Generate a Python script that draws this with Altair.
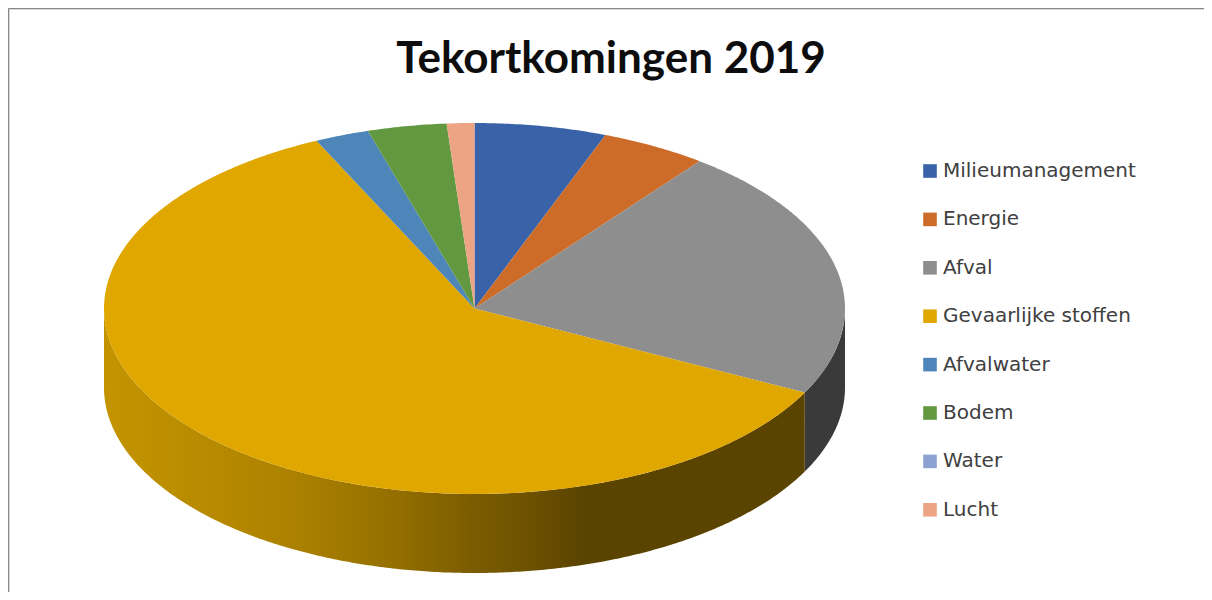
import numpy as np
import pandas as pd
import altair as alt

labels = ["Milieumanagement", "Energie", "Afval", "Gevaarlijke stoffen",
          "Afvalwater", "Bodem", "Water", "Lucht"]
values = [5.75, 4.64, 22.1, 60.5, 2.36, 3.45, 0.0, 1.2]
colors = ["#3A62A9", "#CC6C28", "#8E8E8E", "#DFA700",
          "#4E86B9", "#62983F", "#8EA2D2", "#EDA484"]
side_colors = {"Afval": "#3A3A3A"}
gold_stops = [(0.0, "#C49400"), (0.265, "#AD8200"), (0.41, "#957000"),
              (0.52, "#7C5D00"), (0.595, "#6F5300"), (0.68, "#5B4400"), (1.0, "#5B4400")]

W, H = 1196, 584
CX, CY, RX, RY = 466.5, 300.5, 370.5, 185.5
DEPTH = 79 / RY
xdom = [(0 - CX) / RX, (W - CX) / RX]
ydom = [-(H - CY) / RY, CY / RY]

total = sum(values)
ends = np.cumsum(values) / total * 2 * np.pi
starts = np.concatenate([[0.0], ends[:-1]])


def arc(a, b):
    n = max(2, int(np.degrees(b - a)) * 2)
    t = np.linspace(a, b, n)
    return np.sin(t), np.cos(t)


rows = []
for name, a, b in zip(labels, starts, ends):
    if b - a <= 0:
        continue
    xs, ys = arc(a, b)
    px = [0.0] + list(xs) + [0.0]
    py = [0.0] + list(ys) + [0.0]
    for i, (x, y) in enumerate(zip(px, py)):
        rows.append({"slice": name, "i": i, "x": x, "y": y})
top = pd.DataFrame(rows)


def side(a, b):
    xs, ys = arc(a, b)
    px = list(xs) + list(xs[::-1])
    py = list(ys) + list(ys[::-1] - DEPTH)
    return pd.DataFrame({"i": range(len(px)), "x": px, "y": py})


idx_afval = labels.index("Afval")
idx_gev = labels.index("Gevaarlijke stoffen")
side_gray = side(np.pi / 2, ends[idx_afval])
side_gold = side(starts[idx_gev], 1.5 * np.pi)

x_enc = alt.X("x:Q", scale=alt.Scale(domain=xdom, nice=False, zero=False),
              axis=alt.Axis(orient="top", title=None, ticks=False, labels=False, grid=False,
                            domain=True, domainColor="#878787", domainWidth=2))
y_enc = alt.Y("y:Q", scale=alt.Scale(domain=ydom, nice=False, zero=False),
              axis=alt.Axis(orient="left", title=None, ticks=False, labels=False, grid=False,
                            domain=True, domainColor="#878787", domainWidth=2))
order = alt.Order("i:Q")

gold_fill = alt.Gradient(gradient="linear", x1=0, y1=0, x2=1, y2=0,
                         stops=[alt.GradientStop(offset=o, color=c) for o, c in gold_stops])

inner_v = alt.Chart(pd.DataFrame({"a": [0]})).mark_rule(color="#DADADA", strokeWidth=1).encode(
    x=alt.value(1.5), y=alt.value(1), y2=alt.value(H))
inner_h = alt.Chart(pd.DataFrame({"a": [0]})).mark_rule(color="#DADADA", strokeWidth=1).encode(
    y=alt.value(1.5), x=alt.value(1), x2=alt.value(W))

gray_layer = alt.Chart(side_gray).mark_line(fill=side_colors["Afval"], strokeOpacity=0).encode(
    x=x_enc, y=y_enc, order=order)
gold_layer = alt.Chart(side_gold).mark_line(fill=gold_fill, strokeOpacity=0).encode(
    x=x_enc, y=y_enc, order=order)
top_layer = alt.Chart(top).mark_line(strokeOpacity=0).encode(
    x=x_enc, y=y_enc, order=order,
    fill=alt.Fill("slice:N", scale=alt.Scale(domain=labels, range=colors),
                  sort=labels,
                  legend=alt.Legend(orient="none", legendX=912, legendY=153, title=None,
                                    symbolType="square", symbolSize=185,
                                    symbolStrokeWidth=0, symbolOpacity=1,
                                    labelFont="DejaVu Sans", labelFontSize=20,
                                    labelColor="#404040", labelOffset=3,
                                    rowPadding=28.4, labelLimit=300)),
)

chart = (inner_v + inner_h + gray_layer + gold_layer + top_layer).properties(
    width=W, height=H,
    padding=0,
    autosize=alt.AutoSizeParams(type="none"),
    title=alt.TitleParams("Tekortkomingen 2019", anchor="middle", frame="group",
                          font="Lato", fontSize=44, fontWeight="bold", color="#0D0D0D",
                          dy=78, dx=5),
).configure_view(stroke=None).configure(background="white")

chart.save("out.html", embed_options={"renderer": "svg", "actions": False})
